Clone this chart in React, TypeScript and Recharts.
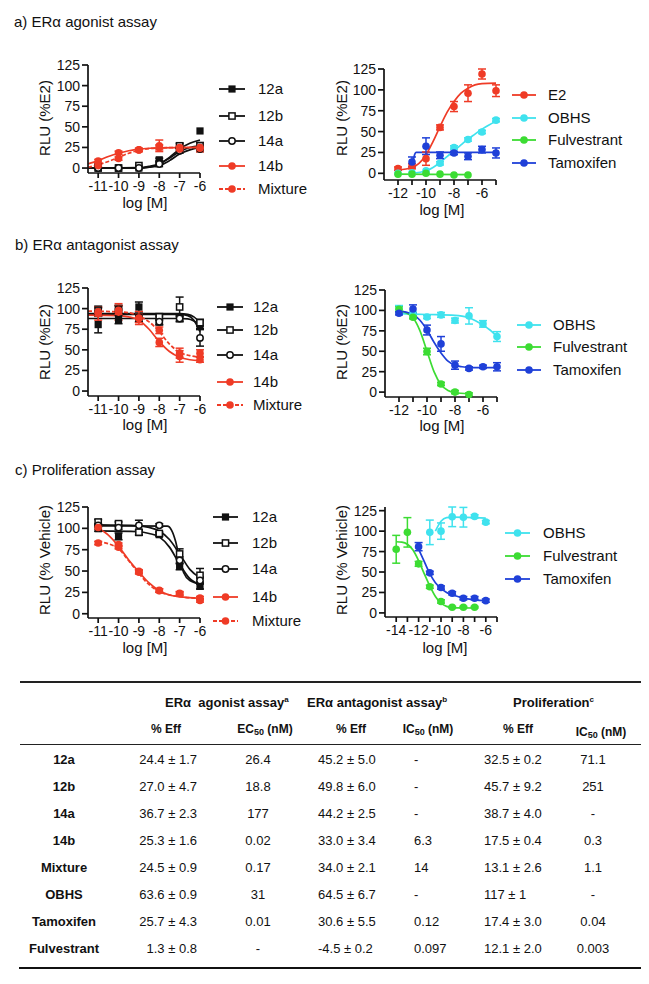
import React from 'react';
import { ComposedChart, Line, Scatter, XAxis, YAxis, ErrorBar } from 'recharts';

const FONT = "'Liberation Sans', Arial, Helvetica, sans-serif";
const RED = '#ef3b26';
const CYAN = '#3fe2ee';
const GREEN = '#3cdc33';
const BLUE = '#1f40d8';
const BLACK = '#111111';

// ---------- shared x positions (log [M]) ----------
const xCompounds = [-11, -10, -9, -8, -7, -6];
const xRefAgonist = [-12, -11, -10, -9, -8, -7, -6, -5];
const xRefProlif = [-14, -13, -12, -11, -10, -9, -8, -7, -6];

// ---------- a) agonist, compounds ----------
const ago12a = [1.5, 0, 0, 10, 27, 45];
const ago12aErr = [0, 0, 0, 2, 3, 0];
const ago12b = [0, 0, 3, 5.5, 27, 27];
const ago12bErr = [0, 0, 0, 0, 0, 4];
const ago14a = [0, 0, 0, 5, 21, 23];
const ago14aErr = [0, 0, 0, 0, 3, 3];
const ago14b = [8.5, 18.5, 22, 27, 25, 25];
const ago14bErr = [2, 2, 2, 7, 3, 5];
const agoMix = [3, 11.5, 22, 25, 23, 24];
const agoMixErr = [2, 2, 2, 3, 3, 4];
const fitAgo12a = [[-11.5, 0], [-9, 0], [-8.5, 1], [-8, 5], [-7.5, 13], [-7, 23], [-6.5, 30], [-6, 34]];
const fitAgo12b = [[-11.5, 0], [-9, 0.5], [-8.5, 2], [-8, 5], [-7.5, 12], [-7, 20], [-6.5, 25], [-6, 27]];
const fitAgo14a = [[-11.5, 0], [-9, 0], [-8.5, 1], [-8, 3], [-7.5, 9], [-7, 17], [-6.5, 22], [-6, 25]];
const fitAgo14b = [[-11.5, 5], [-11, 9], [-10.5, 14], [-10, 18], [-9.5, 21], [-9, 23], [-8.5, 24], [-8, 24.5], [-6, 25]];
const fitAgoMix = [[-11.5, 1], [-11, 4], [-10.5, 8], [-10, 13], [-9.5, 18], [-9, 21.5], [-8.5, 23.5], [-8, 24.5], [-6, 25]];

// ---------- a) agonist, references ----------
const agoE2 = [5.6, 8.4, 17.6, 55, 80, 96, 119, 99];
const agoE2Err = [2, 3, 8, 3, 6, 10, 6, 7];
const agoOBHS = [0, 0.5, 3, 12, 31, 40.5, 49.6, 63.7];
const agoOBHSErr = [0, 0, 0, 2, 2, 2, 2, 2];
const agoFulv = [-1, -1, 0, -1, -2, -2, null, null];
const agoFulvErr = [0, 0, 0, 0, 0, 0, 0, 0];
const agoTam = [null, 13.6, 32.5, 21.6, 24.4, 20.4, 28.4, 24.4];
const agoTamErr = [0, 6, 10, 4, 2, 4, 4, 6];
const fitAgoE2 = [[-12, 4], [-11, 7], [-10.5, 12], [-10, 22], [-9.5, 38], [-9, 56], [-8.5, 73], [-8, 86], [-7.5, 96], [-7, 102], [-6.5, 106], [-6, 107.5], [-5, 108]];
const fitAgoOBHS = [[-11, 0], [-10, 3], [-9.5, 7], [-9, 13], [-8.5, 20], [-8, 27], [-7.5, 34], [-7, 41], [-6.5, 47], [-6, 53], [-5.5, 58], [-5, 62]];
const fitAgoFulv = [[-12, -1], [-7, -1.5]];
const fitAgoTam = [[-11, 8], [-10.9, 16], [-10.8, 23], [-10.7, 25], [-5, 25]];

// ---------- b) antagonist, compounds ----------
const ant12a = [80.6, 86.7, 102, 86, 88, 80.6];
const ant12aErr = [10, 5, 6, 5, 3, 5];
const ant12b = [98, 98.7, 88.7, 90, 102, 83];
const ant12bErr = [5, 5, 5, 4, 12, 4];
const ant14a = [96, 99, 89, 84, 88, 64.5];
const ant14aErr = [5, 5, 5, 4, 4, 10];
const ant14b = [94, 96, 88.7, 59, 42, 38];
const ant14bErr = [8, 10, 8, 5, 7, 3];
const antMix = [96, 98, 88, 73.7, 46, 46];
const antMixErr = [5, 5, 5, 4, 6, 4];
const fitAnt12a = [[-11.5, 88], [-7, 88], [-6.6, 87.5], [-6.3, 85], [-6, 80]];
const fitAnt12b = [[-11.5, 94], [-7, 94], [-6.6, 93], [-6.3, 90], [-6, 83]];
const fitAnt14a = [[-11.5, 93], [-7, 93], [-6.6, 91.5], [-6.3, 86], [-6, 72]];
const fitAnt14b = [[-11.5, 92], [-10, 91.5], [-9.5, 90], [-9, 86], [-8.5, 75], [-8, 60], [-7.5, 48], [-7, 41], [-6.5, 38], [-6, 37]];
const fitAntMix = [[-11.5, 97], [-10, 96], [-9.5, 95], [-9, 91], [-8.5, 84], [-8, 72], [-7.5, 57], [-7, 47], [-6.5, 43], [-6, 41]];

// ---------- b) antagonist, references ----------
const antOBHS = [102, 96, 92, 94.5, 87.6, 93.3, 83.5, 68];
const antOBHSErr = [4, 2, 2, 3, 3, 10, 4, 6];
const antFulv = [101.4, 91.7, 49.7, 10, 0, -3, null, null];
const antFulvErr = [3, 2, 4, 2, 2, 2, 0, 0];
const antTam = [96.5, 101.8, 76, 59, 33, 29, 31, 31];
const antTamErr = [2, 5, 6, 9, 5, 2, 2, 5];
const fitAntOBHS = [[-12, 96], [-10, 95], [-8, 94], [-7.5, 93], [-7, 91], [-6.5, 87], [-6, 82], [-5.5, 76], [-5, 68]];
const fitAntFulv = [[-12, 100], [-11.5, 97], [-11, 91], [-10.5, 75], [-10, 50], [-9.5, 25], [-9, 9], [-8.5, 2], [-8, -0.5], [-7, -2]];
const fitAntTam = [[-12, 99], [-11.5, 98], [-11, 95], [-10.5, 88], [-10, 76], [-9.5, 61], [-9, 48], [-8.5, 38], [-8, 33], [-7.5, 31], [-7, 30], [-5, 30]];

// ---------- c) proliferation, compounds ----------
const pro12a = [99.6, 90.6, 95, 92.6, 55.5, 32];
const pro12aErr = [3, 4, 3, 2, 4, 3];
const pro12b = [107.4, 105.5, 95.5, 94, 70, 45];
const pro12bErr = [3, 2, 3, 2, 6, 8];
const pro14a = [103.5, 100.8, 103.5, 103.5, 62.5, 39];
const pro14aErr = [2, 2, 6, 2, 4, 4];
const pro14b = [101, 78, 49.6, 27.3, 23.4, 18.3];
const pro14bErr = [2, 2, 2, 2, 2, 2];
const proMix = [82.8, 80.9, 48.5, 27, 24, 15.6];
const proMixErr = [2, 2, 2, 2, 2, 2];
const fitPro12a = [[-11, 97], [-9, 96], [-8.5, 94], [-8, 90], [-7.5, 78], [-7, 58], [-6.5, 41], [-6, 34]];
const fitPro12b = [[-11, 104], [-9, 103], [-8.5, 101], [-8, 97], [-7.5, 87], [-7, 70], [-6.5, 52], [-6, 42]];
const fitPro14a = [[-11, 103], [-7.6, 102.5], [-7.4, 98], [-7.2, 85], [-7, 64], [-6.8, 48], [-6.5, 39], [-6, 35]];
const fitPro14b = [[-11, 100], [-10.5, 92], [-10, 79], [-9.5, 63], [-9, 49], [-8.5, 36], [-8, 27], [-7.5, 22], [-7, 20], [-6, 18]];
const fitProMix = [[-11, 84], [-10.5, 82], [-10, 76], [-9.5, 62], [-9, 47], [-8.5, 34], [-8, 26], [-7.5, 22], [-7, 20], [-6, 18]];

// ---------- c) proliferation, references ----------
const proOBHS = [null, null, null, 98.5, 100, 117.5, 117, 118, 111];
const proOBHSErr = [0, 0, 0, 15, 10, 12, 12, 2, 2];
const proFulv = [77.8, 98.5, 60, 32, 14, 7, 7, 7, null];
const proFulvErr = [17, 18, 3, 2, 2, 1, 1, 1, 0];
const proTam = [null, null, 81, 49, 31, 24, 18, 18, 15];
const proTamErr = [0, 0, 5, 2, 2, 2, 2, 2, 2];
const fitProOBHS = [[-10.5, 100], [-10, 112], [-9.5, 116.5], [-9, 117], [-6, 116]];
const fitProFulv = [[-14, 87], [-13.5, 86.5], [-13, 84], [-12.5, 77], [-12, 64], [-11.5, 48], [-11, 33], [-10.5, 20], [-10, 12], [-9.5, 8], [-9, 6.5], [-7, 6]];
const fitProTam = [[-12, 78], [-11.5, 63], [-11, 48], [-10.5, 37], [-10, 30], [-9.5, 25], [-9, 22], [-8.5, 20], [-8, 18], [-7, 16], [-6, 15]];

// ---------- axis ticks ----------
const yTicks = [0, 25, 50, 75, 100, 125];
const xTicksCompounds = [-11, -10, -9, -8, -7, -6];
const xTicksRef = [-12, -11, -10, -9, -8, -7, -6, -5];
const xTicksRefProlif = [-14, -13, -12, -11, -10, -9, -8, -7, -6, -5];

// ---------- table ----------
const tableCompounds = ['12a', '12b', '14a', '14b', 'Mixture', 'OBHS', 'Tamoxifen', 'Fulvestrant'];
const tableAgoEff = ['24.4 ± 1.7', '27.0 ± 4.7', '36.7 ± 2.3', '25.3 ± 1.6', '24.5 ± 0.9', '63.6 ± 0.9', '25.7 ± 4.3', '1.3 ± 0.8'];
const tableAgoEC50 = ['26.4', '18.8', '177', '0.02', '0.17', '31', '0.01', '-'];
const tableAntEff = ['45.2 ± 5.0', '49.8 ± 6.0', '44.2 ± 2.5', '33.0 ± 3.4', '34.0 ± 2.1', '64.5 ± 6.7', '30.6 ± 5.5', '-4.5 ± 0.2'];
const tableAntIC50 = ['-', '-', '-', '6.3', '14', '-', '0.12', '0.097'];
const tableProEff = ['32.5 ± 0.2', '45.7 ± 9.2', '38.7 ± 4.0', '17.5 ± 0.4', '13.1 ± 2.6', '117 ± 1', '17.4 ± 3.0', '12.1 ± 2.0'];
const tableProIC50 = ['71.1', '251', '-', '0.3', '1.1', '-', '0.04', '0.003'];

type Pt = { x: number; y: number; err?: number };
type Kind = 'sq' | 'osq' | 'oc' | 'c';
type Series = { name: string; color: string; marker: Kind; dashed?: boolean; pts: Pt[]; fit: { x: number; y: number }[] };

function toPts(xs: number[], ys: (number | null)[], errs: number[]): Pt[] {
  const out: Pt[] = [];
  xs.forEach((x, i) => {
    const y = ys[i];
    if (y !== null && y !== undefined) out.push({ x, y, err: errs[i] ? errs[i] : undefined });
  });
  return out;
}
function toFit(pairs: number[][]) {
  return pairs.map(([x, y]) => ({ x, y }));
}

function Marker({ cx, cy, kind, color }: { cx: number; cy: number; kind: Kind; color: string }) {
  if (kind === 'sq') return <rect x={cx - 3.6} y={cy - 3.6} width={7.2} height={7.2} fill={color} />;
  if (kind === 'osq') return <rect x={cx - 3.1} y={cy - 3.1} width={6.2} height={6.2} fill="#fff" stroke={color} strokeWidth={1.5} />;
  if (kind === 'oc') return <circle cx={cx} cy={cy} r={3.2} fill="#fff" stroke={color} strokeWidth={1.5} />;
  return <circle cx={cx} cy={cy} r={3.8} fill={color} />;
}

const compoundSeries = (
  d: (number | null)[][], e: number[][], f: number[][][]
): Series[] => [
  { name: '12a', color: BLACK, marker: 'sq', pts: toPts(xCompounds, d[0], e[0]), fit: toFit(f[0]) },
  { name: '12b', color: BLACK, marker: 'osq', pts: toPts(xCompounds, d[1], e[1]), fit: toFit(f[1]) },
  { name: '14a', color: BLACK, marker: 'oc', pts: toPts(xCompounds, d[2], e[2]), fit: toFit(f[2]) },
  { name: '14b', color: RED, marker: 'c', pts: toPts(xCompounds, d[3], e[3]), fit: toFit(f[3]) },
  { name: 'Mixture', color: RED, marker: 'c', dashed: true, pts: toPts(xCompounds, d[4], e[4]), fit: toFit(f[4]) },
];

const seriesAgoLeft = compoundSeries(
  [ago12a, ago12b, ago14a, ago14b, agoMix],
  [ago12aErr, ago12bErr, ago14aErr, ago14bErr, agoMixErr],
  [fitAgo12a, fitAgo12b, fitAgo14a, fitAgo14b, fitAgoMix]
);
const seriesAntLeft = compoundSeries(
  [ant12a, ant12b, ant14a, ant14b, antMix],
  [ant12aErr, ant12bErr, ant14aErr, ant14bErr, antMixErr],
  [fitAnt12a, fitAnt12b, fitAnt14a, fitAnt14b, fitAntMix]
);
const seriesProLeft = compoundSeries(
  [pro12a, pro12b, pro14a, pro14b, proMix],
  [pro12aErr, pro12bErr, pro14aErr, pro14bErr, proMixErr],
  [fitPro12a, fitPro12b, fitPro14a, fitPro14b, fitProMix]
);

const seriesAgoRight: Series[] = [
  { name: 'E2', color: RED, marker: 'c', pts: toPts(xRefAgonist, agoE2, agoE2Err), fit: toFit(fitAgoE2) },
  { name: 'OBHS', color: CYAN, marker: 'c', pts: toPts(xRefAgonist, agoOBHS, agoOBHSErr), fit: toFit(fitAgoOBHS) },
  { name: 'Fulvestrant', color: GREEN, marker: 'c', pts: toPts(xRefAgonist, agoFulv, agoFulvErr), fit: toFit(fitAgoFulv) },
  { name: 'Tamoxifen', color: BLUE, marker: 'c', pts: toPts(xRefAgonist, agoTam, agoTamErr), fit: toFit(fitAgoTam) },
];
const seriesAntRight: Series[] = [
  { name: 'OBHS', color: CYAN, marker: 'c', pts: toPts(xRefAgonist, antOBHS, antOBHSErr), fit: toFit(fitAntOBHS) },
  { name: 'Fulvestrant', color: GREEN, marker: 'c', pts: toPts(xRefAgonist, antFulv, antFulvErr), fit: toFit(fitAntFulv) },
  { name: 'Tamoxifen', color: BLUE, marker: 'c', pts: toPts(xRefAgonist, antTam, antTamErr), fit: toFit(fitAntTam) },
];
const seriesProRight: Series[] = [
  { name: 'OBHS', color: CYAN, marker: 'c', pts: toPts(xRefProlif, proOBHS, proOBHSErr), fit: toFit(fitProOBHS) },
  { name: 'Fulvestrant', color: GREEN, marker: 'c', pts: toPts(xRefProlif, proFulv, proFulvErr), fit: toFit(fitProFulv) },
  { name: 'Tamoxifen', color: BLUE, marker: 'c', pts: toPts(xRefProlif, proTam, proTamErr), fit: toFit(fitProTam) },
];

type PanelCfg = {
  series: Series[];
  plotLeft: number; plotTop: number; plotW: number; plotH: number;
  xDomain: [number, number]; xTicks: number[]; evenOnly?: boolean;
  yDomain: [number, number];
  xLabel: [number, number]; yLabel: [number, number]; yTitle: string;
  legLine: [number, number]; legLabelX: number; legRows: number[];
};

const panels: PanelCfg[] = [
  {
    series: seriesAgoLeft, plotLeft: 88, plotTop: 65, plotW: 112, plotH: 108,
    xDomain: [-11.5, -6], xTicks: xTicksCompounds, yDomain: [-6, 125],
    xLabel: [145, 203], yLabel: [45, 118], yTitle: 'RLU (%E2)',
    legLine: [219, 245], legLabelX: 258, legRows: [89, 116, 141, 166, 189],
  },
  {
    series: seriesAgoRight, plotLeft: 384, plotTop: 69, plotW: 112, plotH: 111,
    xDomain: [-13, -5], xTicks: xTicksRef, evenOnly: true, yDomain: [-8, 125],
    xLabel: [442, 210], yLabel: [342, 118], yTitle: 'RLU (%E2)',
    legLine: [512, 536], legLabelX: 548, legRows: [95, 118, 140, 163],
  },
  {
    series: seriesAntLeft, plotLeft: 88, plotTop: 288, plotW: 112, plotH: 108,
    xDomain: [-11.5, -6], xTicks: xTicksCompounds, yDomain: [-6, 125],
    xLabel: [145, 425], yLabel: [45, 342], yTitle: 'RLU (%E2)',
    legLine: [217, 243], legLabelX: 253, legRows: [307, 330, 355, 382, 405],
  },
  {
    series: seriesAntRight, plotLeft: 385, plotTop: 290, plotW: 112, plotH: 107,
    xDomain: [-13, -5], xTicks: xTicksRef, evenOnly: true, yDomain: [-6, 125],
    xLabel: [442, 426], yLabel: [342, 342], yTitle: 'RLU (%E2)',
    legLine: [517, 541], legLabelX: 553, legRows: [325, 347, 370],
  },
  {
    series: seriesProLeft, plotLeft: 88, plotTop: 507, plotW: 112, plotH: 111,
    xDomain: [-11.5, -6], xTicks: xTicksCompounds, yDomain: [-5, 125],
    xLabel: [145, 648], yLabel: [45, 560], yTitle: 'RLU (% Vehicle)',
    legLine: [213, 238], legLabelX: 252, legRows: [517, 543, 569, 597, 621],
  },
  {
    series: seriesProRight, plotLeft: 385, plotTop: 507, plotW: 112, plotH: 110,
    xDomain: [-15, -5], xTicks: xTicksRefProlif, evenOnly: true, yDomain: [-5, 125],
    xLabel: [445, 648], yLabel: [342, 560], yTitle: 'RLU (% Vehicle)',
    legLine: [505, 530], legLabelX: 543, legRows: [533, 556, 579],
  },
];

const AX = { stroke: BLACK, strokeWidth: 1.7 };
const TICK = { fontSize: 14, fill: BLACK, fontFamily: FONT };

function Panel({ cfg }: { cfg: PanelCfg }) {
  const W = cfg.plotW + 60 + 14;
  const H = cfg.plotH + 10 + 30;
  const fmt = (v: number) => (cfg.evenOnly && Math.abs(v) % 2 === 1 ? '' : String(v));
  return (
    <>
      <div style={{ position: 'absolute', left: cfg.plotLeft - 60, top: cfg.plotTop - 10 }}>
        <ComposedChart width={W} height={H} margin={{ top: 10, right: 14, bottom: 0, left: 0 }}>
          <XAxis type="number" dataKey="x" domain={cfg.xDomain} ticks={cfg.xTicks} interval={0}
            tickFormatter={fmt} height={30} axisLine={AX} tickLine={AX} tickSize={5} tickMargin={3} tick={TICK} />
          <YAxis type="number" dataKey="y" domain={cfg.yDomain} ticks={yTicks} interval={0}
            width={60} axisLine={AX} tickLine={AX} tickSize={6} tickMargin={2} tick={TICK} />
          {cfg.series.map((s) => (
            <Line key={'fit-' + s.name} data={s.fit} dataKey="y" type="monotone" stroke={s.color}
              strokeWidth={1.7} strokeDasharray={s.dashed ? '4 2' : undefined} dot={false}
              activeDot={false} isAnimationActive={false} />
          ))}
          {cfg.series.map((s) => (
            <Scatter key={'pts-' + s.name} data={s.pts} dataKey="y" isAnimationActive={false}
              shape={(p: any) => <Marker cx={p.cx} cy={p.cy} kind={s.marker} color={s.color} />}>
              <ErrorBar dataKey="err" direction="y" width={4} stroke={s.color} strokeWidth={1.5} />
            </Scatter>
          ))}
        </ComposedChart>
      </div>
      <div style={{ position: 'absolute', left: cfg.xLabel[0] - 60, width: 120, top: cfg.xLabel[1] - 9, textAlign: 'center', fontSize: 15, lineHeight: '18px' }}>log [M]</div>
      <div style={{ position: 'absolute', left: cfg.yLabel[0], top: cfg.yLabel[1], transform: 'translate(-50%, -50%) rotate(-90deg)', whiteSpace: 'nowrap', fontSize: 15, lineHeight: '18px' }}>{cfg.yTitle}</div>
      {cfg.series.map((s, i) => {
        const w = cfg.legLine[1] - cfg.legLine[0];
        return (
          <React.Fragment key={'leg-' + s.name}>
            <svg style={{ position: 'absolute', left: cfg.legLine[0], top: cfg.legRows[i] - 6 }} width={w} height={12}>
              <line x1={0} y1={6} x2={w} y2={6} stroke={s.color} strokeWidth={1.8} strokeDasharray={s.dashed ? '4 2' : undefined} />
              <Marker cx={w / 2} cy={6} kind={s.marker} color={s.color} />
            </svg>
            <div style={{ position: 'absolute', left: cfg.legLabelX, top: cfg.legRows[i] - 9, fontSize: 15, lineHeight: '18px', whiteSpace: 'nowrap' }}>{s.name}</div>
          </React.Fragment>
        );
      })}
    </>
  );
}

const colLayout: { x: number; align: 'left' | 'right' | 'center' }[] = [
  { x: 197, align: 'right' },
  { x: 258, align: 'center' },
  { x: 318, align: 'left' },
  { x: 414, align: 'left' },
  { x: 484, align: 'left' },
  { x: 593, align: 'center' },
];
const rowY0 = 760;
const rowStep = 27;

function Cell({ x, y, align, bold, size, children }: { x: number; y: number; align: 'left' | 'right' | 'center'; bold?: boolean; size?: number; children: React.ReactNode }) {
  const fs = size ?? 13;
  const base: React.CSSProperties = { position: 'absolute', top: y - 9, fontSize: fs, lineHeight: '18px', fontWeight: bold ? 700 : 400, whiteSpace: 'nowrap' };
  if (align === 'left') return <div style={{ ...base, left: x }}>{children}</div>;
  if (align === 'right') return <div style={{ ...base, left: x - 200, width: 200, textAlign: 'right' }}>{children}</div>;
  return <div style={{ ...base, left: x - 100, width: 200, textAlign: 'center' }}>{children}</div>;
}

const sub = (t: string) => <sub style={{ fontSize: 9, verticalAlign: '-2px' }}>{t}</sub>;
const sup = (t: string) => <sup style={{ fontSize: 8, verticalAlign: '5px' }}>{t}</sup>;

function Table() {
  const cols = [tableAgoEff, tableAgoEC50, tableAntEff, tableAntIC50, tableProEff, tableProIC50];
  return (
    <>
      <div style={{ position: 'absolute', left: 20, width: 621, top: 681, height: 1.5, background: '#222' }} />
      <Cell x={165} y={700} align="left" bold>ERα&nbsp; agonist assay{sup('a')}</Cell>
      <Cell x={307} y={700} align="left" bold>ERα antagonist assay{sup('b')}</Cell>
      <Cell x={513} y={700} align="left" bold>Proliferation{sup('c')}</Cell>
      <Cell x={166} y={729} align="center" bold size={12}>% Eff</Cell>
      <Cell x={265} y={729} align="center" bold size={12}>EC{sub('50')} (nM)</Cell>
      <Cell x={351} y={729} align="center" bold size={12}>% Eff</Cell>
      <Cell x={428} y={729} align="center" bold size={12}>IC{sub('50')} (nM)</Cell>
      <Cell x={518} y={729} align="center" bold size={12}>% Eff</Cell>
      <Cell x={601} y={732} align="center" bold size={12}>IC{sub('50')} (nM)</Cell>
      <div style={{ position: 'absolute', left: 20, width: 621, top: 743.5, height: 1.3, background: '#222' }} />
      {tableCompounds.map((c, r) => (
        <React.Fragment key={c}>
          <Cell x={64} y={rowY0 + r * rowStep} align="center" bold>{c}</Cell>
          {cols.map((col, k) => (
            <Cell key={k} x={colLayout[k].x} y={rowY0 + r * rowStep} align={colLayout[k].align}>{col[r]}</Cell>
          ))}
        </React.Fragment>
      ))}
      <div style={{ position: 'absolute', left: 19, width: 622, top: 966.5, height: 2.8, background: '#111' }} />
    </>
  );
}

export default function App() {
  return (
    <div style={{ position: 'absolute', left: 0, top: 0, width: 649, height: 984, background: '#fff', fontFamily: FONT, color: BLACK, overflow: 'hidden' }}>
      <div style={{ position: 'absolute', left: 14, top: 22 - 9, fontSize: 15, lineHeight: '18px' }}>a) ERα agonist assay</div>
      <div style={{ position: 'absolute', left: 15, top: 245 - 9, fontSize: 15, lineHeight: '18px' }}>b) ERα antagonist assay</div>
      <div style={{ position: 'absolute', left: 15, top: 470 - 9, fontSize: 15, lineHeight: '18px' }}>c) Proliferation assay</div>
      {panels.map((p, i) => <Panel key={i} cfg={p} />)}
      <Table />
    </div>
  );
}
